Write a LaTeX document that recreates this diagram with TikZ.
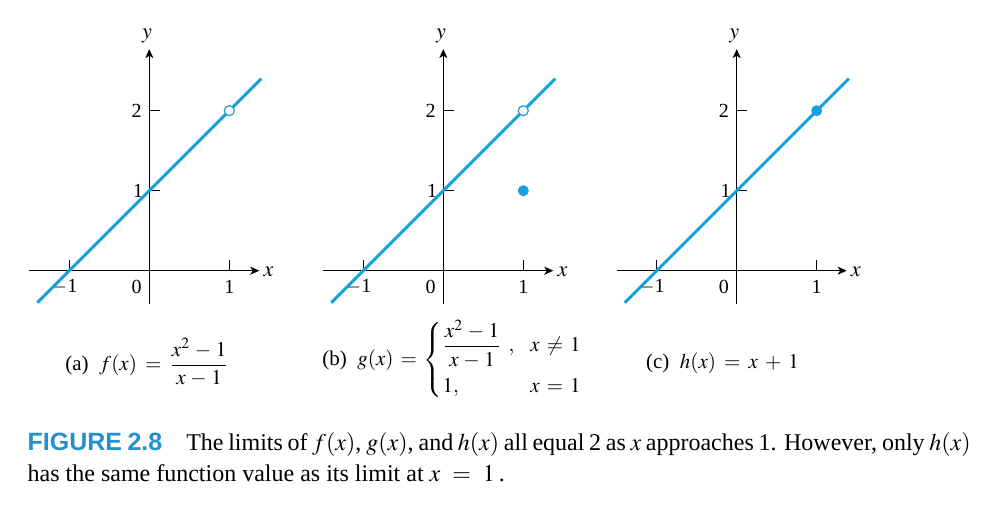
\documentclass[tikz,border=0pt]{standalone}
\usepackage{amsmath}
\usepackage{mathptmx}
\usepackage{fontspec}
\setmainfont{Liberation Serif}
\newfontfamily\capsans{Liberation Sans}
\usetikzlibrary{arrows.meta}
\definecolor{graphblue}{RGB}{25,160,220}
\definecolor{capblue}{RGB}{35,145,205}
\medmuskip=6mu plus 2mu minus 2mu
\thickmuskip=7mu plus 3mu
\tikzset{
  axisline/.style={line width=0.6pt, -{Stealth[length=4.5pt,width=4pt,inset=1.2pt]}},
  tickline/.style={line width=0.6pt},
  graphline/.style={graphblue, line width=1.5pt},
  ticklab/.style={font=\fontsize{10}{12}\selectfont, inner sep=0pt},
  axlab/.style={font=\fontsize{11}{13}\selectfont, inner sep=0pt},
  opendot/.style={circle, draw=graphblue, fill=white, line width=0.6pt, minimum size=5pt, inner sep=0pt},
  filldot/.style={circle, fill=graphblue, minimum size=5.5pt, inner sep=0pt},
  lab/.style={font=\fontsize{10.5}{12.5}\selectfont, inner sep=0pt},
  captext/.style={font=\fontsize{12}{14}\selectfont, inner sep=0pt, anchor=base west},
}
\newcommand{\drawpanel}[1]{%
  \coordinate (#1-xs) at (-1.5,0);
  \coordinate (#1-xe) at (1.375,0);
  \coordinate (#1-ys) at (0,-0.41);
  \coordinate (#1-ye) at (0,2.77);
  \draw[axisline] (#1-xs) -- (#1-xe);
  \draw[axisline] (#1-ys) -- (#1-ye);
  \draw[tickline] (-1,0) -- (-1,0.13) (1,0) -- (1,0.13) (0,1) -- (0.13,1) (0,2) -- (0.13,2);
  \node[axlab] (#1-xl) at (1.49,-0.01) {$x$};
  \node[axlab] (#1-yl) at (-0.03,2.94) {$y$};
  \node[ticklab] (#1-t2) at (-0.16,2) {2};
  \node[ticklab] (#1-t1) at (-0.14,1) {1};
  \node[ticklab] (#1-tm1) at (-1.06,-0.2) {$-$1};
  \node[ticklab] (#1-t0) at (-0.16,-0.2) {0};
  \node[ticklab] (#1-tx1) at (1,-0.2) {1};
  \coordinate (#1-gs) at (-1.4,-0.4);
  \coordinate (#1-ge) at (1.4,2.4);
  \draw[graphline] (#1-gs) -- (#1-ge);
}
\begin{document}
\begin{tikzpicture}[x=0.5pt,y=0.5pt]
\useasboundingbox (0,0) rectangle (995,515);
\fill[white] (0,0) rectangle (995,515);
\begin{scope}[xshift=74.65pt,yshift=122.15pt,x=40pt,y=40pt]
  \drawpanel{a}
  \node[opendot] (a-pt) at (1,2) {};
\end{scope}
\begin{scope}[xshift=221.65pt,yshift=122.15pt,x=40pt,y=40pt]
  \drawpanel{b}
  \node[opendot] (b-pt) at (1,2) {};
  \node[filldot] (b-dot) at (1,1) {};
\end{scope}
\begin{scope}[xshift=368.35pt,yshift=122.15pt,x=40pt,y=40pt]
  \drawpanel{c}
  \node[filldot] (c-dot) at (1,2) {};
\end{scope}
\node[lab, anchor=west] (la) at (65,152.5) {\medmuskip=4mu plus 2mu minus 2mu(a)\ \ $f(x) = \dfrac{x^2-1}{x-1}$};
\node[lab, anchor=west] (lb) at (322,155) {\medmuskip=4mu plus 2mu minus 2mu\thickmuskip=6mu plus 2mu(b)\ \ $g(x) = \left\{\begin{array}{@{}l@{\hspace{8pt}}l}
  \dfrac{x^2-1}{x-1}\;, & x\neq 1\\[8pt]
  1, & x=1
\end{array}\right.$};
\node[lab, anchor=base] (lc) at (722.5,147) {(c)\ \ $h(x) = x + 1$};
\node[captext] (cap1) at (27.3,64.3) {\makebox[471.5pt][s]{{\capsans\bfseries\fontsize{12.5}{14}\selectfont\color{capblue}FIGURE 2.8}\quad The limits of $f(x)$, $g(x)$, and $h(x)$ all equal 2 as $x$ approaches 1. However, only $h(x)$}};
\node[captext] (cap2) at (27.3,33.3) {has the same function value as its limit at $x\,=\,1$\,.};
\end{tikzpicture}
\end{document}
